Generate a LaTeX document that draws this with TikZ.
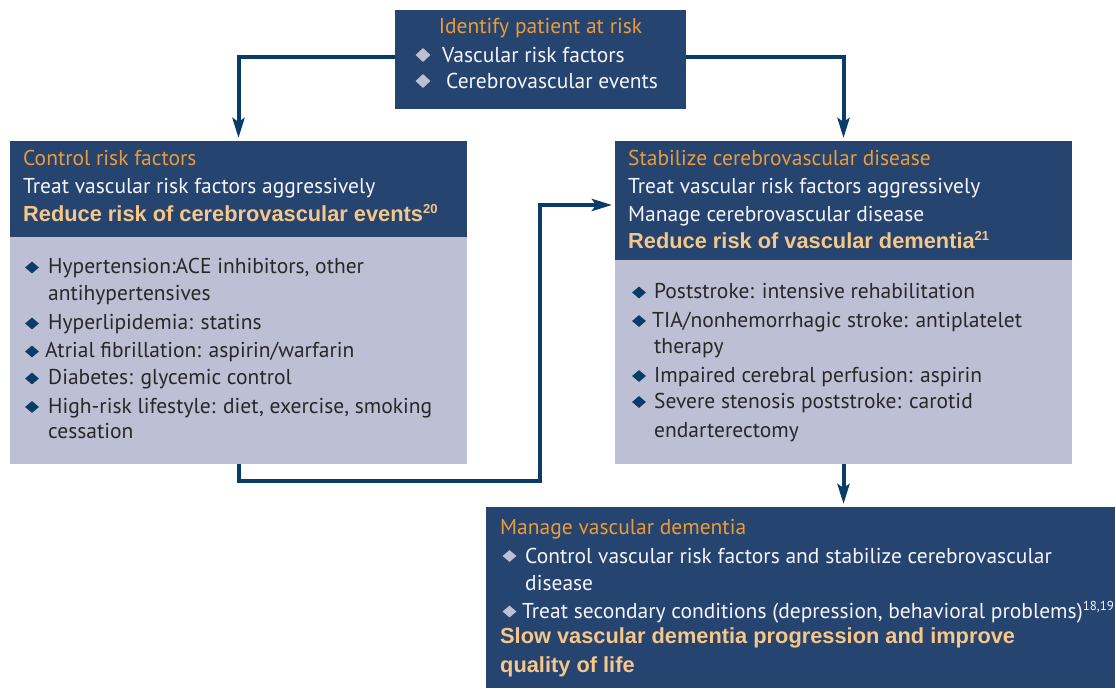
\documentclass[tikz,border=0pt]{standalone}
\usepackage{fontspec}
\setmainfont{PT Sans}
\newfontfamily\bsans{Liberation Sans}
\usetikzlibrary{arrows.meta,shapes.geometric}
\definecolor{hdr}{RGB}{38,68,112}
\definecolor{lite}{RGB}{189,191,212}
\definecolor{arr}{RGB}{11,60,105}
\definecolor{ttl}{RGB}{236,155,55}
\definecolor{bor}{RGB}{247,199,135}
\definecolor{bodyc}{RGB}{40,40,40}
\definecolor{wht}{RGB}{245,245,250}
\newcommand{\supr}[1]{\raisebox{8pt}{\fontsize{13}{13}\selectfont #1}}
\tikzset{
  box/.style={draw=none, inner sep=0pt, outer sep=0pt, anchor=north west},
  txt/.style={anchor=base west, inner sep=0pt, font=\fontsize{21.5}{25}\selectfont},
  ttlt/.style={txt, text=ttl},
  wt/.style={txt, text=wht},
  bt/.style={txt, text=bodyc},
  bold/.style={txt, text=bor, font=\fontsize{21.8}{25}\bsans\bfseries},
  dia/.style={diamond, inner sep=0pt, minimum width=14pt, minimum height=12pt},
  dial/.style={dia, fill=lite},
  diad/.style={dia, fill=arr},
  conn/.style={draw=arr, line width=4pt, -{Stealth[length=20pt,width=12pt,inset=4pt]}, shorten >=3pt},
}
\begin{document}
\begin{tikzpicture}[x=1pt,y=-1pt]
\useasboundingbox (0,0) rectangle (1116,688);
% boxes
\node[box, fill=hdr, minimum width=291pt, minimum height=99pt] (top) at (395,10) {};
\node[box, fill=lite, minimum width=457pt, minimum height=323pt] (left) at (10,141) {};
\node[box, fill=hdr, minimum width=457pt, minimum height=96pt] (lefth) at (10,141) {};
\node[box, fill=lite, minimum width=457pt, minimum height=323pt] (right) at (615,141) {};
\node[box, fill=hdr, minimum width=457pt, minimum height=119pt] (righth) at (615,141) {};
\node[box, fill=hdr, minimum width=629pt, minimum height=181pt] (bot) at (486,507) {};
% connectors
\coordinate (k1) at (540,481);
\coordinate (k2) at (615,205);
\draw[conn] ([yshift=2.5pt]top.west) -| (left.north);
\draw[conn] ([yshift=2.5pt]top.east) -| (right.north);
\draw[conn] (left.south) |- (k1) |- (k2);
\draw[conn] (right.south) -- (right.south |- bot.north);
% top text
\node[ttlt, anchor=base] (t0) at (540.5,33) {Identify patient at risk};
\node[dial, minimum width=15pt, minimum height=14pt] (td1) at (423,55) {};
\node[wt] (t1) at (442,62) {Vascular risk factors};
\node[dial, minimum width=15pt, minimum height=14pt] (td2) at (423,81) {};
\node[wt] (t2) at (446,88) {Cerebrovascular events};
% left text
\node[ttlt] (l0) at (23,165) {Control risk factors};
\node[wt] (l1) at (23,193) {Treat vascular risk factors aggressively};
\node[bold] (l2) at (23,221) {Reduce risk of cerebrovascular events\supr{20}};
\node[diad] (ld1) at (32,267.5) {};
\node[bt] (l3) at (48,273) {Hypertension:ACE inhibitors, other};
\node[bt] (l4) at (48,300) {antihypertensives};
\node[diad] (ld2) at (32,323.5) {};
\node[bt] (l5) at (48,329) {Hyperlipidemia: statins};
\node[diad] (ld3) at (32,351.5) {};
\node[bt] (l6) at (45,357) {Atrial fibrillation: aspirin/warfarin};
\node[diad] (ld4) at (32,378.5) {};
\node[bt] (l7) at (48,384) {Diabetes: glycemic control};
\node[diad] (ld5) at (32,407) {};
\node[bt] (l8) at (48,413) {High-risk lifestyle: diet, exercise, smoking};
\node[bt] (l9) at (48,438) {cessation};
% right text
\node[ttlt] (r0) at (628,165) {Stabilize cerebrovascular disease};
\node[wt] (r1) at (628,193) {Treat vascular risk factors aggressively};
\node[wt] (r2) at (628,221) {Manage cerebrovascular disease};
\node[bold] (r3) at (628,248) {Reduce risk of vascular dementia\supr{21}};
\node[diad] (rd1) at (639,292.5) {};
\node[bt] (r4) at (654,298) {Poststroke: intensive rehabilitation};
\node[diad] (rd2) at (639,321) {};
\node[bt] (r5) at (652,327) {TIA/nonhemorrhagic stroke: antiplatelet};
\node[bt] (r6) at (654,353) {therapy};
\node[diad] (rd3) at (639,376) {};
\node[bt] (r7) at (654,382) {Impaired cerebral perfusion: aspirin};
\node[diad] (rd4) at (639,402) {};
\node[bt] (r8) at (654,408) {Severe stenosis poststroke: carotid};
\node[bt] (r9) at (654,437) {endarterectomy};
% bottom text
\node[ttlt] (b0) at (500,534) {Manage vascular dementia};
\node[dial] (bd1) at (509.5,556) {};
\node[wt] (b1) at (525,563) {Control vascular risk factors and stabilize cerebrovascular};
\node[wt] (b2) at (525,590) {disease};
\node[dial] (bd2) at (509.5,611.5) {};
\node[wt] (b3) at (522,618) {Treat secondary conditions (depression, behavioral problems)\supr{18,19}};
\node[bold] (b4) at (500,643) {Slow vascular dementia progression and improve};
\node[bold] (b5) at (500,672) {quality of life};
\end{tikzpicture}
\end{document}
